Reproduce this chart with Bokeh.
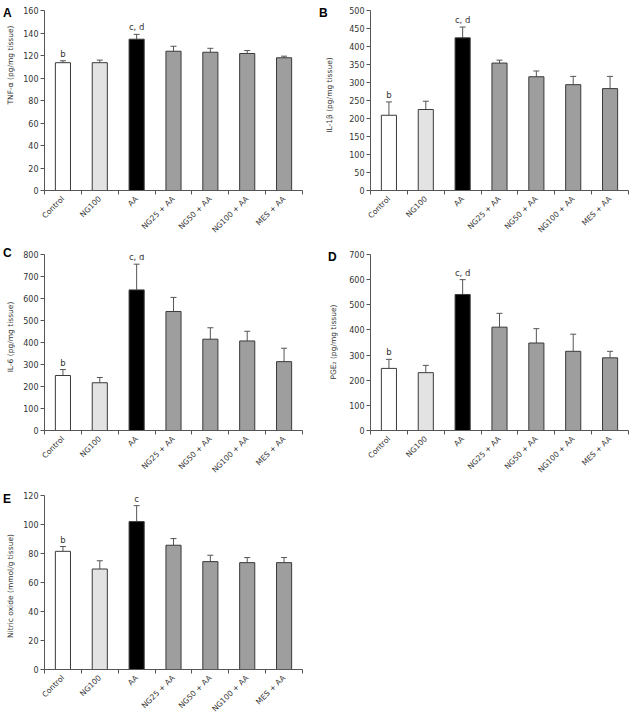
import math
from bokeh.plotting import figure
from bokeh.models import FixedTicker, Range1d, ColumnDataSource, Whisker, TeeHead, Div
from bokeh.layouts import column, row
from bokeh.embed import file_html
from bokeh.resources import INLINE
from bokeh.core.properties import value

categories = ["Control", "NG100", "AA", "NG25 + AA", "NG50 + AA", "NG100 + AA", "MES + AA"]
bar_colors = ["#ffffff", "#e3e3e3", "#000000", "#9e9e9e", "#9e9e9e", "#9e9e9e", "#9e9e9e"]

tnf_mean = [113.6, 113.6, 134.5, 123.8, 122.9, 121.8, 118.0]
tnf_err = [1.7, 2.3, 4.3, 4.4, 3.5, 2.6, 1.4]
tnf_ticks = [0, 20, 40, 60, 80, 100, 120, 140, 160]

il1b_mean = [209, 225, 424, 354, 316, 294, 283]
il1b_err = [37, 23, 30, 8, 16, 23, 34]
il1b_ticks = [0, 50, 100, 150, 200, 250, 300, 350, 400, 450, 500]

il6_mean = [250, 217, 639, 541, 415, 407, 313]
il6_err = [27, 24, 117, 64, 52, 44, 61]
il6_ticks = [0, 100, 200, 300, 400, 500, 600, 700, 800]

pge2_mean = [247, 230, 541, 411, 348, 315, 289]
pge2_err = [36, 29, 59, 55, 57, 68, 26]
pge2_ticks = [0, 100, 200, 300, 400, 500, 600, 700]

no_mean = [81.5, 69.3, 102.0, 85.7, 74.4, 73.7, 73.7]
no_err = [3.3, 5.7, 11.0, 4.6, 4.4, 3.5, 3.5]
no_ticks = [0, 20, 40, 60, 80, 100, 120]

annot_cd = ["b", "", "c, d", "", "", "", ""]
annot_c = ["b", "", "c", "", "", "", ""]

AXIS_COLOR = "#555555"
TEXT_COLOR = "#333333"
FONT = "DejaVu Sans"


def make_panel(means, errs, annots, ticks, width, height, left, top, bottom, right):
    n = len(categories)
    xs = list(range(n))
    p = figure(width=width, height=height,
               x_range=Range1d(-0.5, n - 0.5), y_range=Range1d(ticks[0], ticks[-1]),
               output_backend="svg", toolbar_location=None,
               min_border_left=left, min_border_top=top, min_border_bottom=bottom,
               min_border_right=right, outline_line_color=None)
    p.grid.visible = False
    src = ColumnDataSource(dict(x=xs, top=means,
                                err_top=[m + e for m, e in zip(means, errs)],
                                color=bar_colors, annot=annots))
    p.vbar(x="x", top="top", width=0.41, fill_color="color", line_color="#3a3a3a",
           line_width=1, source=src)
    w = Whisker(base="x", upper="err_top", lower="top", dimension="height",
                line_color="#555555", line_width=1,
                upper_head=TeeHead(size=6, line_color="#555555", line_width=1),
                lower_head=None, source=src)
    p.add_layout(w)
    p.text(x="x", y="err_top", text="annot", y_offset=-2, text_align="center",
           text_baseline="bottom", text_font=value(FONT), text_font_size="8.5px",
           text_color=TEXT_COLOR, source=src)

    xa = p.xaxis[0]
    xa.ticker = FixedTicker(ticks=xs, minor_ticks=[i + 0.5 for i in range(-1, n)])
    xa.major_label_overrides = {i: c for i, c in enumerate(categories)}
    xa.major_tick_line_color = None
    xa.major_tick_out = 0
    xa.major_tick_in = 0
    xa.minor_tick_line_color = AXIS_COLOR
    xa.minor_tick_out = 4
    xa.minor_tick_in = 0
    xa.axis_line_color = AXIS_COLOR
    xa.major_label_orientation = math.pi / 4
    xa.major_label_standoff = 3
    xa.major_label_text_font = FONT
    xa.major_label_text_font_size = "7.6px"
    xa.major_label_text_color = TEXT_COLOR

    ya = p.yaxis[0]
    ya.ticker = FixedTicker(ticks=ticks)
    ya.major_tick_out = 4
    ya.major_tick_in = 0
    ya.major_tick_line_color = AXIS_COLOR
    ya.minor_tick_line_color = None
    ya.axis_line_color = AXIS_COLOR
    ya.major_label_standoff = 2
    ya.major_label_text_font = FONT
    ya.major_label_text_font_size = "8px"
    ya.major_label_text_color = TEXT_COLOR
    return p


def side_div(letter, ylabel, width, height, lx, ly, tx, ty):
    html = (
        '<div style="position:relative;width:%dpx;height:%dpx;">'
        '<div style="position:absolute;left:%dpx;top:%dpx;font-family:\'Liberation Sans\';'
        'font-weight:bold;font-size:12px;line-height:14px;color:#000">%s</div>'
        '<div style="position:absolute;left:%dpx;top:%dpx;'
        'transform:translate(-50%%,-50%%) rotate(-90deg);white-space:nowrap;'
        'font-family:\'DejaVu Sans\';font-size:7.5px;line-height:9px;color:%s">%s</div>'
        '</div>'
        % (width, height, lx, ly, letter, tx, ty, TEXT_COLOR, ylabel)
    )
    return Div(text=html, width=width, height=height, margin=0)


pA = make_panel(tnf_mean, tnf_err, annot_cd, tnf_ticks, 295, 240, 24, 10, 50, 13)
pB = make_panel(il1b_mean, il1b_err, annot_cd, il1b_ticks, 284, 240, 25, 10, 50, 1)
pC = make_panel(il6_mean, il6_err, annot_cd, il6_ticks, 295, 240, 24, 11, 47, 13)
pD = make_panel(pge2_mean, pge2_err, annot_cd, pge2_ticks, 284, 240, 25, 14, 45, 1)
pE = make_panel(no_mean, no_err, annot_c, no_ticks, 295, 239, 24, 15, 44, 13)

row1 = row(side_div("A", "TNF-\u03b1 (pg/mg tissue)", 20, 240, 3, 6, 10, 65), pA,
           side_div("B", "IL-1\u03b2 (pg/mg tissue)", 30, 240, 4, 6, 14, 95), pB)
row2 = row(side_div("C", "IL-6 (pg/mg tissue)", 20, 240, 3, 6, 10, 97), pC,
           side_div("D", "PGE\u2082 (pg/mg tissue)", 30, 240, 13, 10, 18, 102), pD)
row3 = row(side_div("E", "Nitric oxide (mmol/g tissue)", 20, 239, 3, 12, 10, 106), pE)
layout = column(row1, row2, row3)

with open("out.html", "w") as f:
    f.write(file_html(layout, INLINE))
